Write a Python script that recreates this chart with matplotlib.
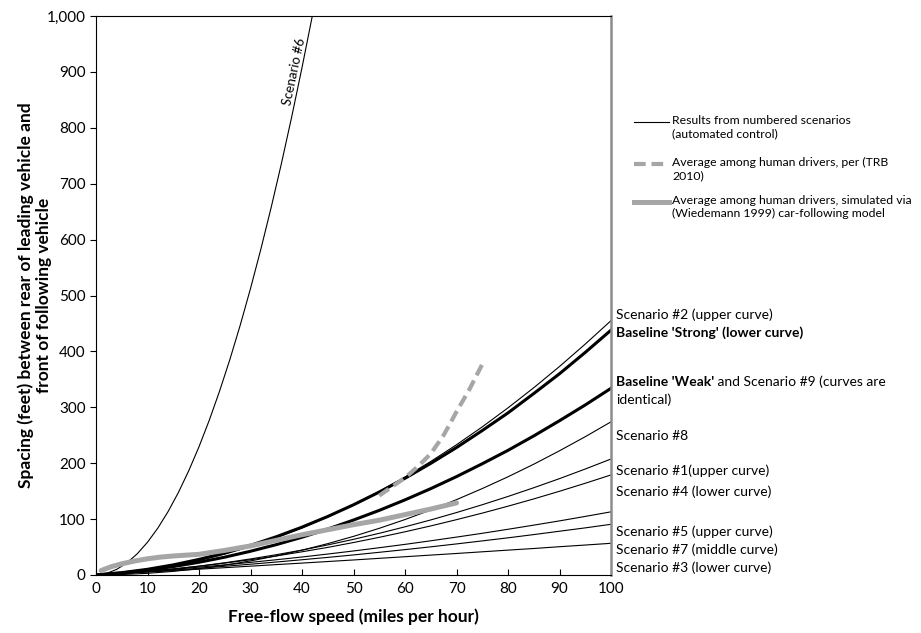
import matplotlib
matplotlib.use("Agg")
import matplotlib.pyplot as plt
from matplotlib.lines import Line2D

plt.rcParams['font.family'] = ['Lato', 'DejaVu Sans']

# speed (mph) grid used for the scenario curves
speed = [0, 5, 10, 15, 20, 25, 30, 35, 40, 45, 50, 55, 60, 65, 70, 75, 80, 85, 90, 95, 100]

scen2 = [0, 3.4, 8.8, 16.3, 25.8, 37.3, 50.9, 66.5, 84.2, 103.9, 125.7, 149.4, 175.3, 203.1,
         233, 265, 299, 335, 373, 413.1, 455]
strong = [0, 4.2, 10.2, 18.1, 27.9, 39.5, 53, 68.4, 85.6, 104.7, 125.6, 148.4, 173, 199.7,
          228, 258.4, 290, 324.6, 360, 398.2, 438]
weak = [0, 3.6, 8.7, 15, 22.8, 31.9, 42.5, 54.3, 67.6, 82.2, 98.3, 115.6, 134.4, 154.5,
        176, 199, 223, 248.8, 276, 304.2, 334]
scen8 = [0, 0.8, 3, 6.5, 11.4, 17.6, 25.2, 34.1, 44.4, 56.1, 69.1, 83.5, 99.2, 116.3,
         134.8, 154.6, 175.7, 198.2, 222.2, 247.4, 274]
scen1 = [0, 2.8, 6.4, 10.7, 15.9, 21.9, 28.7, 36.3, 44.6, 53.8, 63.8, 74.6, 86.2, 98.5,
         111.7, 125.7, 140.5, 156.1, 172.4, 189.6, 207.5]
scen4 = [0, 3, 6.6, 10.8, 15.7, 21.2, 27.3, 34.1, 41.5, 49.4, 58.1, 67.4, 77.3, 87.8,
         99, 110.7, 123.1, 136.1, 149.8, 164.1, 179]
scen5 = [0, 3.1, 6.4, 10.1, 14, 18.1, 22.6, 27.3, 32.2, 37.5, 43, 48.8, 54.8, 61.2,
         67.8, 74.6, 81.8, 89.2, 96.8, 104.8, 113]
scen7 = [0, 2.7, 5.7, 8.8, 12.1, 15.6, 19.3, 23.2, 27.3, 31.5, 35.9, 40.6, 45.4, 50.4,
         55.6, 61, 66.5, 72.3, 78.3, 84.3, 90.7]
scen3 = [0, 2.6, 5.2, 7.8, 10.4, 13.1, 15.8, 18.6, 21.3, 24.1, 26.9, 29.8, 32.7, 35.6,
         38.5, 41.5, 44.5, 47.4, 50.6, 53.6, 56.7]

scen6_x = [1, 2, 4, 6, 8, 10, 12, 14, 16, 18, 20, 22, 24, 26, 28, 30, 32, 34, 36, 38, 40, 42]
scen6_y = [0, 2.7, 10, 21.7, 37.9, 58.6, 83.8, 113.5, 147.6, 186.3, 229.4, 277, 329.1, 385.7,
           446.8, 512.4, 582.5, 657, 736, 819.6, 907.6, 1000]

trb_x = [55, 57.5, 60, 62.5, 65, 67.5, 70, 72.5, 75]
trb_y = [142, 158, 174, 194, 217, 250, 292, 332, 377]

wied_x = [1, 3, 5, 7.5, 10, 12.5, 15, 20, 25, 30, 35, 40, 45, 50, 55, 60, 65, 70]
wied_y = [8, 15, 20, 25, 29, 32, 34, 37, 44, 52, 62, 72, 81, 90, 98, 108, 118, 129]

xticks = [0, 10, 20, 30, 40, 50, 60, 70, 80, 90, 100]
yticks = [0, 100, 200, 300, 400, 500, 600, 700, 800, 900, 1000]
ytick_labels = ['0', '100', '200', '300', '400', '500', '600', '700', '800', '900', '1,000']

gray = '#a6a6a6'

fig = plt.figure(figsize=(9.21, 6.33), dpi=100)
ax = fig.add_axes([96 / 921, 58 / 633, 515 / 921, 559 / 633])

thin = dict(color='black', lw=0.8)
for ys in [scen2, scen8, scen1, scen4, scen5, scen7, scen3]:
    ax.plot(speed, ys, **thin)
ax.plot(scen6_x, scen6_y, **thin)
ax.plot(speed, strong, color='black', lw=2.2)
ax.plot(speed, weak, color='black', lw=2.2)
ax.plot(wied_x, wied_y, color=gray, lw=3.6, solid_capstyle='round')
ax.plot(trb_x, trb_y, color=gray, lw=3, dashes=(2.8, 1.4))

ax.set_xlim(0, 100)
ax.set_ylim(0, 1000)
ax.set_xticks(xticks)
ax.set_yticks(yticks)
ax.set_yticklabels(ytick_labels)
ax.tick_params(axis='x', direction='in', length=4, labelsize=11, pad=5)
ax.tick_params(axis='y', direction='out', length=4, labelsize=11)
for s in ['left', 'bottom', 'top']:
    ax.spines[s].set_linewidth(0.8)
ax.spines['right'].set_color('#8c8c8c')
ax.spines['right'].set_linewidth(1.8)

ax.set_xlabel('Free-flow speed (miles per hour)', fontsize=12.5, fontweight='bold', labelpad=9)
ax.set_ylabel('Spacing (feet) between rear of leading vehicle and\nfront of following vehicle',
              fontsize=12.5, fontweight='bold', labelpad=-4, linespacing=1.15)

# scenario #6 label along curve
ax.text(38.4, 900, 'Scenario #6', rotation=78, fontsize=9.5, ha='center', va='center')

# right-hand curve labels
lab = dict(fontsize=10, ha='left', va='center', clip_on=False)
ax.text(101, 465, 'Scenario #2 (upper curve)', **lab)
ax.text(101, 433, "Baseline 'Strong' (lower curve)", fontweight='bold', **lab)
b = ax.text(101, 345, "Baseline 'Weak'", fontweight='bold', **lab)
ax.annotate(' and Scenario #9 (curves are', xy=(1, 0.5), xycoords=b, fontsize=10,
            ha='left', va='center')
ax.text(101, 314, 'identical)', **lab)
ax.text(101, 249, 'Scenario #8', **lab)
ax.text(101, 187, 'Scenario #1(upper curve)', **lab)
ax.text(101, 149, 'Scenario #4 (lower curve)', **lab)
ax.text(101, 77, 'Scenario #5 (upper curve)', **lab)
ax.text(101, 45, 'Scenario #7 (middle curve)', **lab)
ax.text(101, 13, 'Scenario #3 (lower curve)', **lab)

# legend drawn by hand
def fx(px):
    return px / 921

def fy(py):
    return 1 - py / 633

leg = [
    (122, dict(color='black', lw=0.8), 'Results from numbered scenarios\n(automated control)'),
    (164, dict(color=gray, lw=3, dashes=(2.8, 1.4)), 'Average among human drivers, per (TRB\n2010)'),
    (202, dict(color=gray, lw=3.6), 'Average among human drivers, simulated via\n(Wiedemann 1999) car-following model'),
]
for py, style, txt in leg:
    fig.add_artist(Line2D([fx(634), fx(669)], [fy(py), fy(py)], **style))
    fig.text(fx(672), fy(py - 7), txt, fontsize=8.8, ha='left', va='top', linespacing=1.25)

fig.savefig('out.png', dpi=100)
